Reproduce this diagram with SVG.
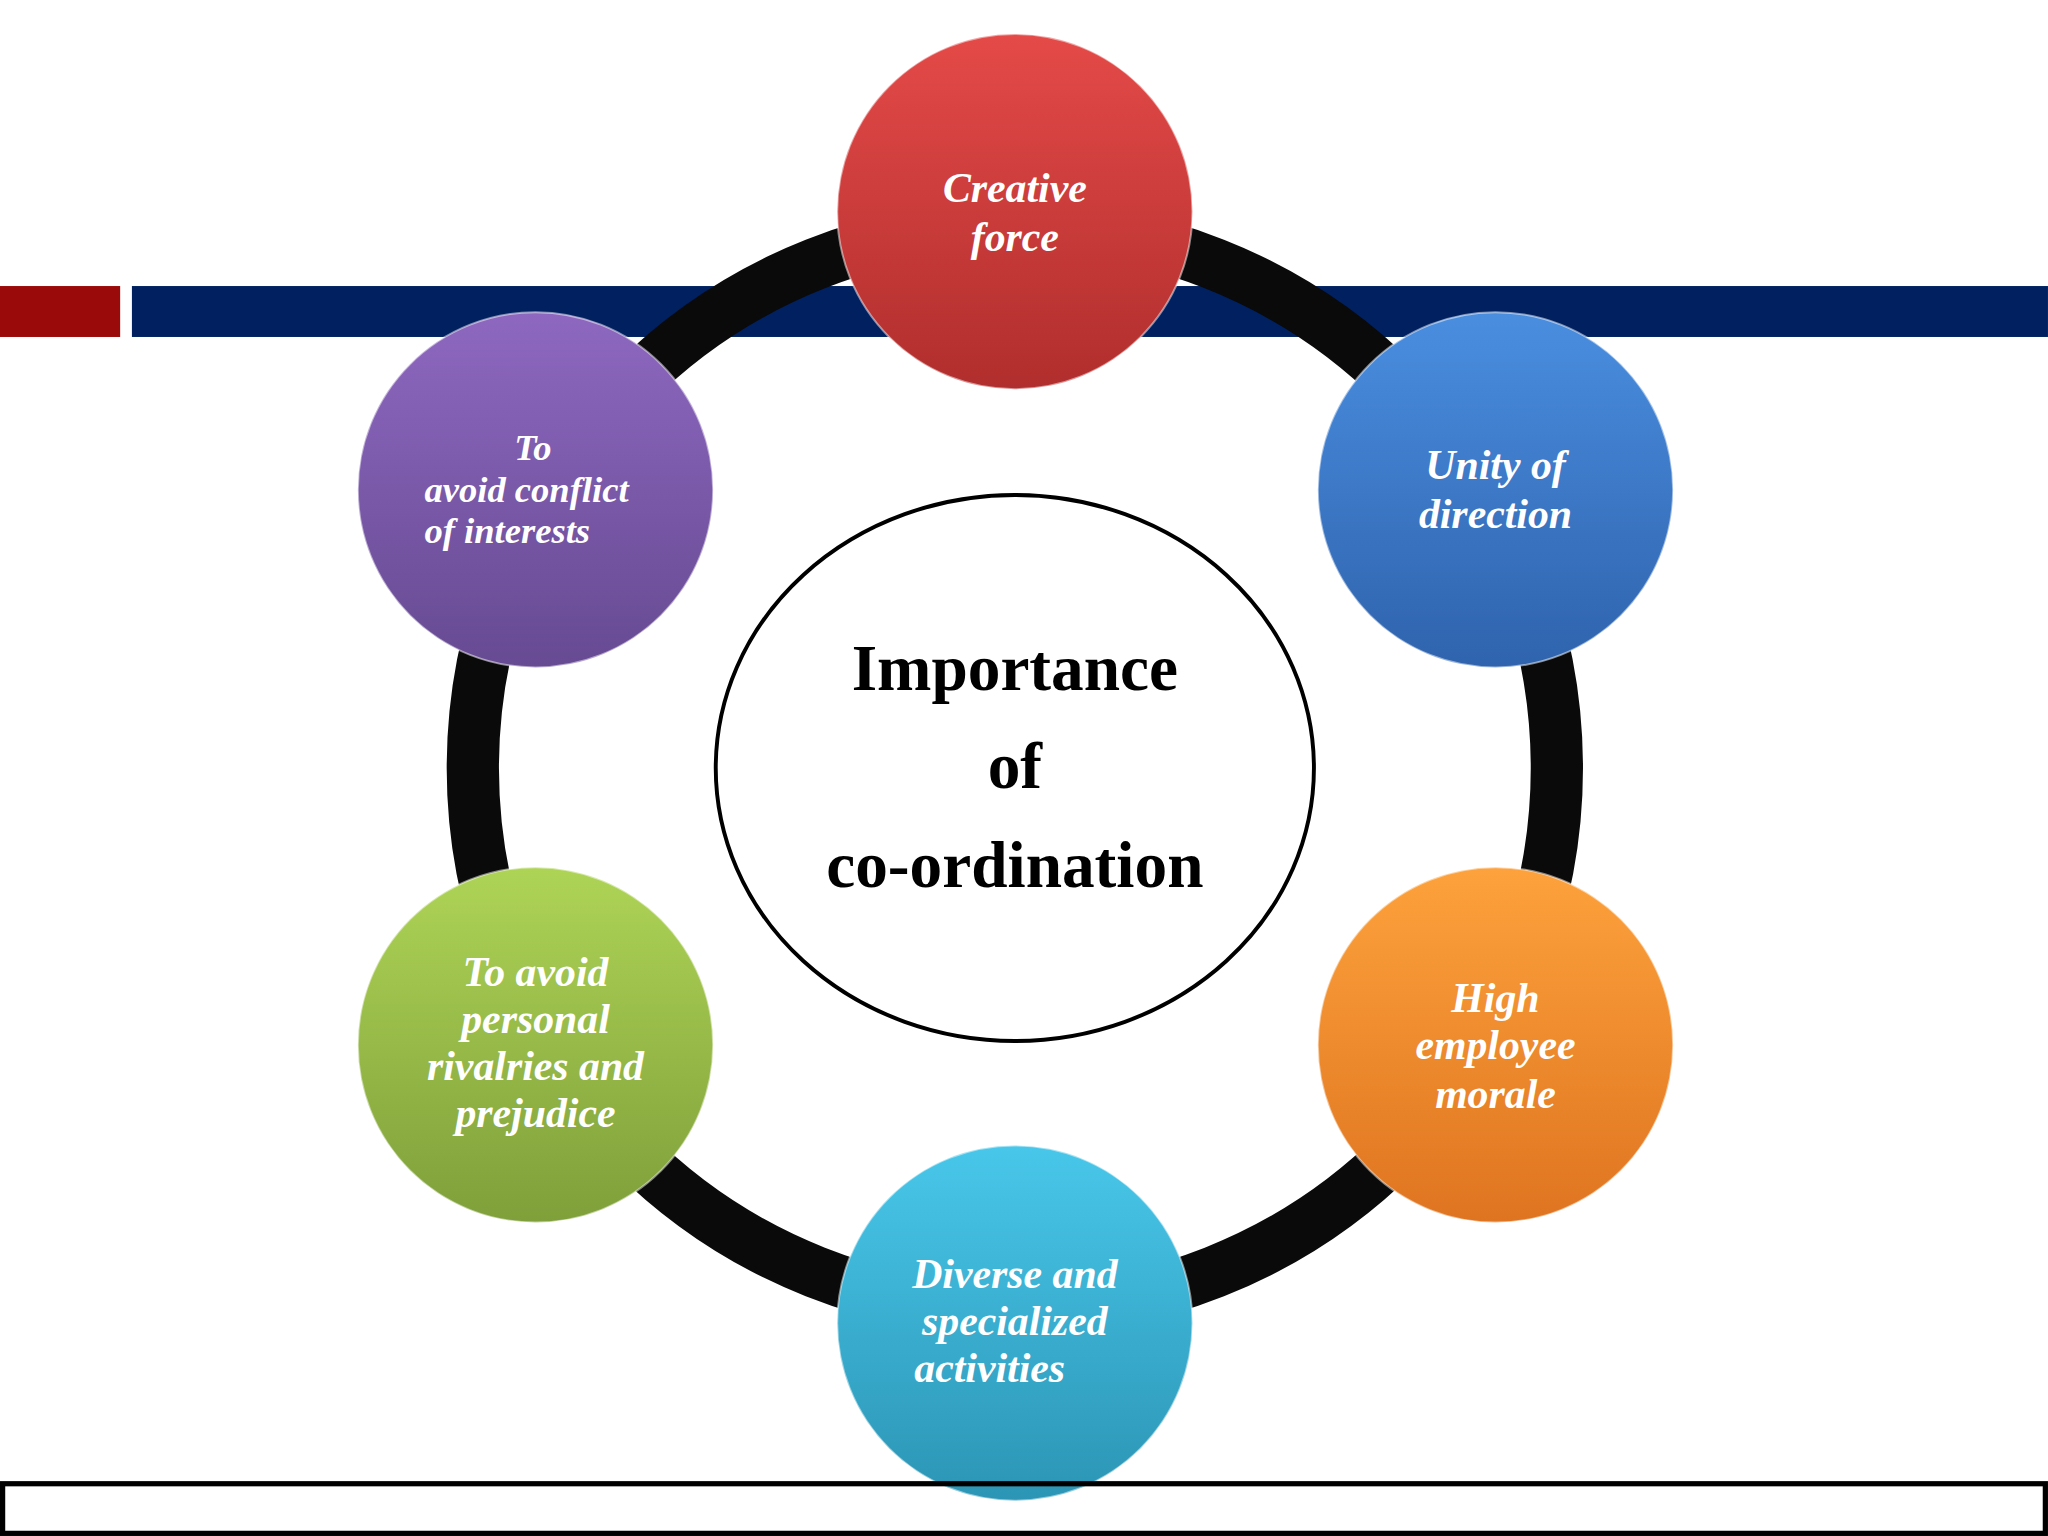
<svg xmlns="http://www.w3.org/2000/svg" width="2048" height="1536" viewBox="0 0 2048 1536">
<style>
.t{font-family:"Liberation Serif",serif;font-weight:bold;font-style:italic;fill:#fff;font-size:32px;text-anchor:middle}
.c{font-family:"Liberation Serif",serif;font-weight:bold;fill:#000;font-size:50px;text-anchor:middle}
.n{stroke:#fff;stroke-opacity:0.5;stroke-width:1.5}
</style>
<defs>
<linearGradient id="gr" x1="0" y1="0" x2="0" y2="1"><stop offset="0" stop-color="#e44a48"/><stop offset="1" stop-color="#b02e2d"/></linearGradient>
<linearGradient id="gb" x1="0" y1="0" x2="0" y2="1"><stop offset="0" stop-color="#4a8ee0"/><stop offset="1" stop-color="#2f63ad"/></linearGradient>
<linearGradient id="go" x1="0" y1="0" x2="0" y2="1"><stop offset="0" stop-color="#fda23c"/><stop offset="1" stop-color="#df7420"/></linearGradient>
<linearGradient id="gc" x1="0" y1="0" x2="0" y2="1"><stop offset="0" stop-color="#48c7ea"/><stop offset="1" stop-color="#2c95b5"/></linearGradient>
<linearGradient id="gg" x1="0" y1="0" x2="0" y2="1"><stop offset="0" stop-color="#aed456"/><stop offset="1" stop-color="#7f9f3a"/></linearGradient>
<linearGradient id="gp" x1="0" y1="0" x2="0" y2="1"><stop offset="0" stop-color="#8e68c0"/><stop offset="1" stop-color="#664a92"/></linearGradient>
</defs>
<rect width="2048" height="1536" fill="#fff"/>
<g transform="scale(1.3061)">
<g id="bars">
<rect x="0" y="219" width="92" height="39" fill="#9b0a0a"/>
<rect x="101" y="219" width="1467" height="39" fill="#002060"/>
</g>
<g id="connectors">
<circle cx="777" cy="588" r="415" fill="none" stroke="#0a0a0a" stroke-width="40"/>
</g>
<g id="center">
<ellipse cx="777" cy="588" rx="229" ry="209" fill="#fff" stroke="#000" stroke-width="3"/>
<text class="c" x="777" y="528">Importance</text>
<text class="c" x="777" y="603">of</text>
<text class="c" x="777" y="679">co-ordination</text>
</g>
<g id="n1"><circle class="n" cx="777" cy="162" r="136" fill="url(#gr)"/>
<text class="t" x="777" y="155">Creative</text><text class="t" x="777" y="192">force</text></g>
<g id="n2"><circle class="n" cx="1145" cy="375" r="136" fill="url(#gb)"/>
<text class="t" x="1145" y="367">Unity of</text><text class="t" x="1145" y="404">direction</text></g>
<g id="n3"><circle class="n" cx="1145" cy="800" r="136" fill="url(#go)"/>
<text class="t" x="1145" y="775">High</text><text class="t" x="1145" y="811">employee</text><text class="t" x="1145" y="848">morale</text></g>
<g id="n4"><circle class="n" cx="777" cy="1013" r="136" fill="url(#gc)"/>
<text class="t" x="777" y="986">Diverse and</text><text class="t" x="777" y="1022">specialized</text><text class="t" x="700" y="1058" style="text-anchor:start">activities</text></g>
<g id="n5"><circle class="n" cx="410" cy="800" r="136" fill="url(#gg)"/>
<text class="t" x="410" y="755">To avoid</text><text class="t" x="410" y="791">personal</text><text class="t" x="410" y="827">rivalries and</text><text class="t" x="410" y="863">prejudice</text></g>
<g id="n6"><circle class="n" cx="410" cy="375" r="136" fill="url(#gp)"/>
<text class="t" x="408" y="352" style="font-size:28px">To</text>
<text class="t" x="325" y="384" style="font-size:28px;text-anchor:start">avoid conflict</text>
<text class="t" x="325" y="416" style="font-size:28px;text-anchor:start">of interests</text></g>
<rect x="2" y="1136" width="1564" height="38" fill="none" stroke="#000" stroke-width="4"/>
</g>
</svg>
